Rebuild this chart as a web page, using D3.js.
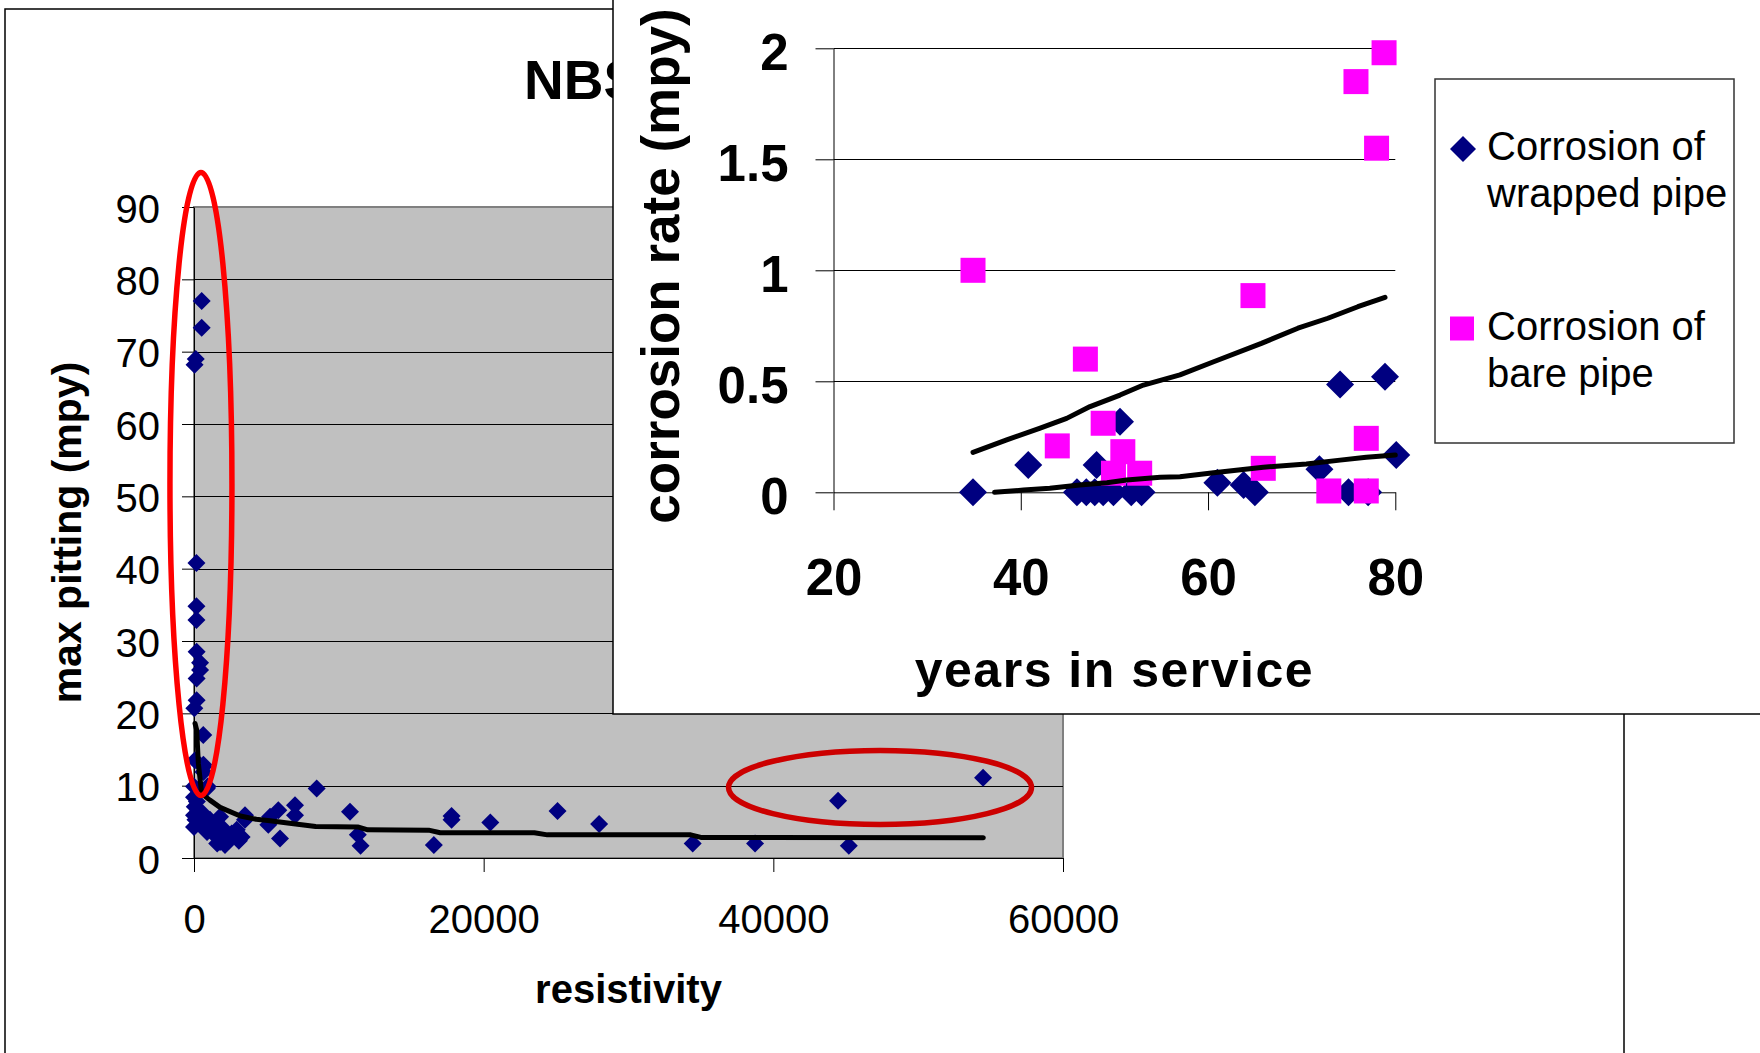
<!DOCTYPE html>
<html>
<head>
<meta charset="utf-8">
<script src="https://cdn.jsdelivr.net/npm/d3@7"></script>
<style>
  body { margin: 0; background: #fff; }
  svg { display: block; font-family: "Liberation Sans", Arial, sans-serif; }
</style>
</head>
<body>
<svg id="chart" width="1760" height="1053"></svg>
<script>
// main chart: resistivity vs max pitting
const pitData = [
  [530, 77.0], [530, 73.3], [120, 69.0], [40, 68.2],
  [170, 40.8], [170, 34.8], [170, 32.9], [180, 28.5], [420, 27.0], [420, 26.0],
  [180, 24.8], [180, 21.8], [20, 20.7],
  [640, 17.0], [70, 13.5], [650, 12.9], [640, 12.6], [650, 11.9],
  [0, 9.9], [940, 9.9], [880, 9.6], [0, 8.4], [200, 7.8], [50, 7.1], [300, 6.6],
  [0, 5.9], [100, 5.3], [0, 4.3], [300, 4.8], [600, 6.2], [800, 4.0], [900, 3.6],
  [1100, 5.3], [1300, 4.6], [1400, 3.5], [1565, 2.9], [1800, 5.7], [1900, 4.3],
  [1800, 2.2], [2140, 1.8], [2400, 2.4], [2600, 3.4], [2950, 3.9], [3290, 2.9],
  [3100, 2.4], [3520, 5.3], [3520, 5.9], [2200, 2.6], [1600, 2.0],
  [5130, 4.6], [5250, 5.7], [5820, 6.6], [5940, 2.7], [6975, 7.3], [6975, 5.9], [8470, 9.6],
  [10770, 6.4], [11310, 3.2], [11500, 1.7], [16560, 1.8], [17785, 5.8], [17785, 5.3],
  [20460, 4.9], [25100, 6.5], [27970, 4.7],
  [34430, 2.0], [38740, 2.0], [44470, 7.9], [45210, 1.7], [54480, 11.1]
];
const pitTrend = [
  [70, 18.6], [184, 17.7], [300, 13.1], [530, 8.9], [1100, 8.0], [1800, 7.0],
  [3200, 5.8], [4300, 5.35], [5250, 5.15], [6600, 4.8], [8400, 4.35], [11300, 4.3],
  [12000, 3.9], [16200, 3.85], [17000, 3.5], [23500, 3.5], [24400, 3.2], [34300, 3.2],
  [35000, 2.85], [54500, 2.8]
];
const mainXTicks = [0, 20000, 40000, 60000];
const mainYTicks = [0, 10, 20, 30, 40, 50, 60, 70, 80, 90];
// red ellipses drawn on the chart, in data units: [cx, cy, rx, ry, colour]
const highlights = [
  [480, 51.7, 2140, 43.07, "#ff0000"],
  [47366, 9.75, 10460, 5.12, "#cc0000"]
];

// inset chart: years in service vs corrosion rate
const wrappedPipe = [
  [34.9, 0], [40.8, 0.123], [46.0, 0], [47.0, 0], [47.9, 0], [48.1, 0.123], [48.8, 0],
  [49.9, 0], [50.6, 0.318], [51.8, 0], [52.9, 0], [61.0, 0.043], [63.8, 0.033], [65.0, 0],
  [71.9, 0.104], [74.1, 0.486], [75.0, 0], [77.1, 0], [78.9, 0.521], [80.1, 0.168]
];
const barePipe = [
  [34.9, 1.0], [43.9, 0.209], [46.9, 0.60], [48.8, 0.311], [49.9, 0.086], [50.9, 0.183],
  [52.7, 0.086], [64.8, 0.886], [65.9, 0.108], [72.9, 0.006], [75.8, 1.85], [76.9, 0.243],
  [76.9, 0.006], [78.0, 1.55], [78.8, 1.98]
];
const wrappedTrend = [
  [37.2, 0], [40.3, 0.01], [43.1, 0.018], [46.3, 0.033], [49.2, 0.043], [51.3, 0.055],
  [54.9, 0.068], [57.0, 0.07], [60.6, 0.088], [65.9, 0.113], [70.5, 0.127], [74.1, 0.145],
  [76.9, 0.158], [80.0, 0.168]
];
const bareTrend = [
  [34.9, 0.18], [38.5, 0.236], [42.0, 0.288], [44.9, 0.333], [47.4, 0.386], [50.6, 0.438],
  [53.1, 0.483], [57.0, 0.529], [60.6, 0.588], [65.7, 0.671], [69.6, 0.739], [72.8, 0.784],
  [76.0, 0.836], [78.9, 0.878]
];
const insetXTicks = [20, 40, 60, 80];
const insetYTicks = [0, 0.5, 1, 1.5, 2];
const legendItems = [
  { lines: ["Corrosion of", "wrapped pipe"], color: "#000080", shape: "diamond" },
  { lines: ["Corrosion of", "bare pipe"], color: "#ff00ff", shape: "square" }
];

const svg = d3.select("#chart");

// ---------- main chart ----------
svg.append("rect")
  .attr("x", 5).attr("y", 9).attr("width", 1619).attr("height", 1100)
  .attr("fill", "#fff").attr("stroke", "#000").attr("stroke-width", 1.5);

const mx = d3.scaleLinear().domain([0, 60000]).range([194, 1063]);
const my = d3.scaleLinear().domain([0, 90]).range([858, 207]);

svg.append("rect")
  .attr("x", mx(0)).attr("y", my(90))
  .attr("width", mx(60000) - mx(0)).attr("height", my(0) - my(90))
  .attr("fill", "#c0c0c0").attr("stroke", "#808080").attr("stroke-width", 2);

svg.append("g").selectAll("line")
  .data(mainYTicks.filter(d => d > 0 && d < 90))
  .join("line")
  .attr("x1", mx(0)).attr("x2", mx(60000))
  .attr("y1", d => Math.round(my(d)) + 0.5).attr("y2", d => Math.round(my(d)) + 0.5)
  .attr("stroke", "#000").attr("stroke-width", 1);

const mainYAxis = svg.append("g")
  .attr("transform", `translate(${mx(0)},0)`)
  .call(d3.axisLeft(my).tickValues(mainYTicks).tickSize(12).tickSizeOuter(0).tickPadding(22));
const mainXAxis = svg.append("g")
  .attr("transform", `translate(0,${my(0)})`)
  .call(d3.axisBottom(mx).tickValues(mainXTicks).tickSize(14).tickSizeOuter(0)
    .tickPadding(33).tickFormat(d3.format("d")));
[mainYAxis, mainXAxis].forEach(g => {
  g.attr("font-family", null).attr("font-size", null);
  g.selectAll("text").attr("fill", "#000").style("font-size", "40px");
  g.selectAll(".domain, .tick line").attr("stroke", "#000");
});
mainYAxis.selectAll("text").attr("dy", "0.38em");

const diamond = size => d3.symbol(d3.symbolSquare, size * size * 2)();

svg.append("g").selectAll("path")
  .data(pitData)
  .join("path")
  .attr("d", diamond(9))
  .attr("transform", d => `translate(${mx(d[0])},${my(d[1])}) rotate(45)`)
  .attr("fill", "#000080");

svg.append("path")
  .datum(pitTrend)
  .attr("fill", "none").attr("stroke", "#000").attr("stroke-width", 5)
  .attr("stroke-linejoin", "round").attr("stroke-linecap", "round")
  .attr("d", d3.line().x(d => mx(d[0])).y(d => my(d[1])));

svg.append("g").selectAll("ellipse")
  .data(highlights)
  .join("ellipse")
  .attr("cx", d => mx(d[0])).attr("cy", d => my(d[1]))
  .attr("rx", d => mx(d[2]) - mx(0)).attr("ry", d => my(0) - my(d[3]))
  .attr("fill", "none").attr("stroke", d => d[4]).attr("stroke-width", 5.5);

svg.append("text")
  .attr("x", 524).attr("y", 99)
  .attr("font-weight", "bold").style("font-size", "55px")
  .text("NBS");

svg.append("text")
  .attr("x", (mx(0) + mx(60000)) / 2).attr("y", 1003)
  .attr("text-anchor", "middle").attr("font-weight", "bold").style("font-size", "40px")
  .text("resistivity");

svg.append("text")
  .attr("transform", `translate(81,${(my(0) + my(90)) / 2}) rotate(-90)`)
  .attr("text-anchor", "middle").attr("font-weight", "bold").style("font-size", "41px")
  .text("max pitting (mpy)");

// ---------- inset chart ----------
svg.append("rect")
  .attr("x", 613).attr("y", -10).attr("width", 1200).attr("height", 724)
  .attr("fill", "#fff").attr("stroke", "#000").attr("stroke-width", 1.5);

const ix = d3.scaleLinear().domain([20, 80]).range([833.5, 1395.3]);
const iy = d3.scaleLinear().domain([0, 2]).range([492.3, 48.3]);

svg.append("g").selectAll("line")
  .data(insetYTicks.filter(d => d > 0))
  .join("line")
  .attr("x1", ix(20)).attr("x2", ix(80))
  .attr("y1", d => Math.round(iy(d)) + 0.5).attr("y2", d => Math.round(iy(d)) + 0.5)
  .attr("stroke", "#000").attr("stroke-width", 1);

const insetYAxis = svg.append("g")
  .attr("transform", `translate(${ix(20)},0)`)
  .call(d3.axisLeft(iy).tickValues(insetYTicks).tickSize(18).tickSizeOuter(0)
    .tickPadding(27).tickFormat(d => String(d)));
const insetXAxis = svg.append("g")
  .attr("transform", `translate(0,${iy(0)})`)
  .call(d3.axisBottom(ix).tickValues(insetXTicks).tickSize(18).tickSizeOuter(0).tickPadding(48));
[insetYAxis, insetXAxis].forEach(g => {
  g.attr("font-family", null).attr("font-size", null);
  g.selectAll("text").attr("fill", "#000").attr("font-weight", "bold").style("font-size", "51px");
  g.selectAll(".domain, .tick line").attr("stroke", "#000");
});
insetYAxis.selectAll("text").attr("dy", "0.42em");

svg.append("g").selectAll("path")
  .data(wrappedPipe)
  .join("path")
  .attr("d", diamond(14))
  .attr("transform", d => `translate(${ix(d[0])},${iy(d[1])}) rotate(45)`)
  .attr("fill", "#000080");

svg.append("g").selectAll("rect")
  .data(barePipe)
  .join("rect")
  .attr("x", d => ix(d[0]) - 12.5).attr("y", d => iy(d[1]) - 12.5)
  .attr("width", 25).attr("height", 25)
  .attr("fill", "#ff00ff");

const trendLine = d3.line().x(d => ix(d[0])).y(d => iy(d[1]));
svg.append("g").selectAll("path")
  .data([wrappedTrend, bareTrend])
  .join("path")
  .attr("fill", "none").attr("stroke", "#000").attr("stroke-width", 5)
  .attr("stroke-linejoin", "round").attr("stroke-linecap", "round")
  .attr("d", trendLine);

svg.append("text")
  .attr("x", (ix(20) + ix(80)) / 2).attr("y", 687)
  .attr("text-anchor", "middle").attr("font-weight", "bold").style("font-size", "50px")
  .style("letter-spacing", "1.5px")
  .text("years in service");

svg.append("text")
  .attr("transform", "translate(679,266) rotate(-90)")
  .attr("text-anchor", "middle").attr("font-weight", "bold").style("font-size", "53px")
  .text("corrosion rate (mpy)");

// legend
const legend = svg.append("g");
legend.append("rect")
  .attr("x", 1435).attr("y", 79).attr("width", 299).attr("height", 364)
  .attr("fill", "#fff").attr("stroke", "#333").attr("stroke-width", 1.5);

const entry = legend.selectAll("g.entry")
  .data(legendItems)
  .join("g")
  .attr("class", "entry")
  .attr("transform", (d, i) => `translate(0,${i * 180})`);

entry.append("path")
  .attr("d", d => d.shape === "diamond" ? diamond(13) : d3.symbol(d3.symbolSquare, 576)())
  .attr("transform", d => d.shape === "diamond" ? "translate(1463,149) rotate(45)" : "translate(1462,148.5)")
  .attr("fill", d => d.color);

entry.append("text")
  .style("font-size", "40px")
  .selectAll("tspan")
  .data(d => d.lines)
  .join("tspan")
  .attr("x", 1487)
  .attr("y", (d, i) => 160 + i * 47)
  .text(d => d);
</script>
</body>
</html>
